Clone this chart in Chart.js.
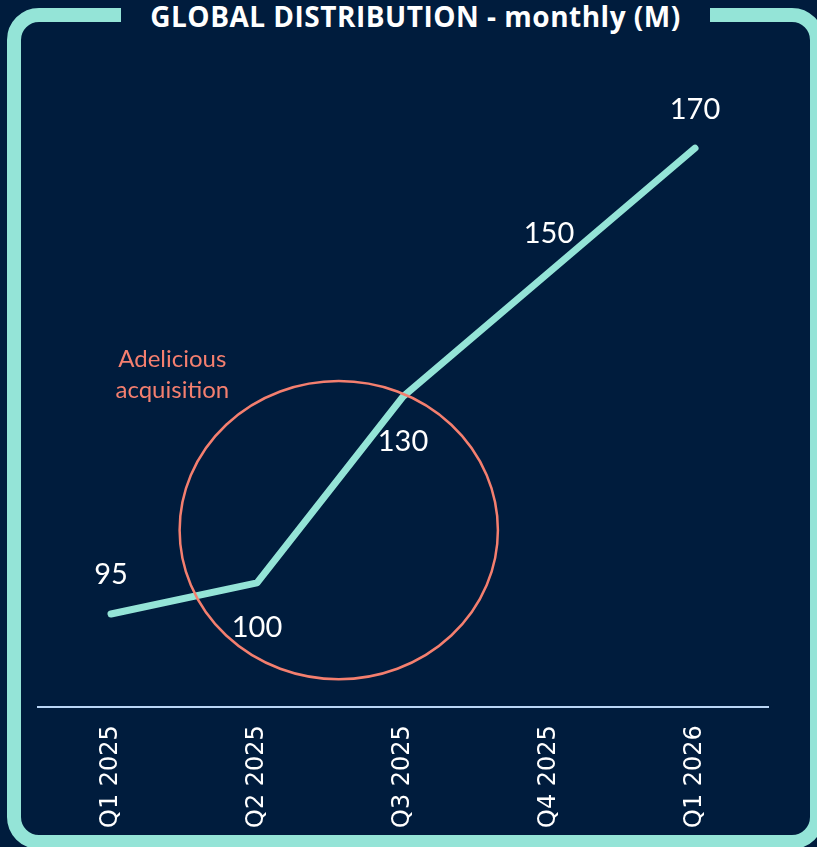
<!DOCTYPE html>
<html>
<head>
<meta charset="utf-8">
<script src="https://cdn.jsdelivr.net/npm/chart.js@4.4.1/dist/chart.umd.min.js"></script>
<style>
    html, body { margin: 0; padding: 0; background: #001c3d; overflow: hidden; }
    body { width: 817px; height: 847px; position: relative; }
    .frame {
        position: absolute; left: 7px; top: 8px;
        width: 789px; height: 813px;
        border: 14px solid #94e4d7; border-radius: 32px;
    }
    .title {
        position: absolute; left: 121px; top: 0; width: 589px; height: 33px;
        background: #001c3d; color: #ffffff;
        font-family: "Open Sans", sans-serif; font-weight: bold; font-size: 28px;
        letter-spacing: 0.5px;
        text-align: center; line-height: 33px;
    }
    #chartBox { position: absolute; left: 0; top: 0; width: 817px; height: 847px; }
</style>
</head>
<body>
<div class="frame"></div>
<div class="title">GLOBAL DISTRIBUTION - monthly (M)</div>
<div id="chartBox"><canvas id="myChart"></canvas></div>
<script>
// Data
const quarters = ["Q1 2025", "Q2 2025", "Q3 2025", "Q4 2025", "Q1 2026"];
const distribution = [95, 100, 130, 150, 170];
const labelSide = ["above", "below", "below", "above", "above"];

// Annotation (in data units)
const noteLines = ["Adelicious", "acquisition"];
const notePos = { x: 0.42, y: 136 };
const ring = { x: 1.56, y: 108.5, rx: 1.09, ry: 24 };

const mint = '#94e4d7';
const salmon = '#f47f6f';

// value labels next to each point
const valueLabels = {
    id: 'valueLabels',
    afterDatasetsDraw(chart) {
        const ctx = chart.ctx;
        const meta = chart.getDatasetMeta(0);
        ctx.save();
        ctx.fillStyle = '#ffffff';
        ctx.font = '29px Lato, sans-serif';
        ctx.textAlign = 'center';
        ctx.textBaseline = 'middle';
        meta.data.forEach((pt, i) => {
            const dy = labelSide[i] === 'above' ? -39 : 45;
            ctx.fillText(String(distribution[i]), pt.x, pt.y + dy);
        });
        ctx.restore();
    }
};

// circle + note
const acquisitionNote = {
    id: 'acquisitionNote',
    afterDatasetsDraw(chart) {
        const ctx = chart.ctx;
        const xs = chart.scales.x, ys = chart.scales.y;
        const cx = xs.getPixelForValue(ring.x);
        const cy = ys.getPixelForValue(ring.y);
        const rx = xs.getPixelForValue(ring.x + ring.rx) - cx;
        const ry = cy - ys.getPixelForValue(ring.y + ring.ry);
        ctx.save();
        ctx.strokeStyle = salmon;
        ctx.lineWidth = 2.5;
        ctx.beginPath();
        ctx.ellipse(cx, cy, rx, ry, 0, 0, Math.PI * 2);
        ctx.stroke();

        ctx.fillStyle = salmon;
        ctx.font = '24px Lato, sans-serif';
        ctx.textAlign = 'center';
        ctx.textBaseline = 'middle';
        const tx = xs.getPixelForValue(notePos.x);
        const ty = ys.getPixelForValue(notePos.y);
        noteLines.forEach((line, i) => ctx.fillText(line, tx, ty + i * 31));
        ctx.restore();
    }
};

const ctx = document.getElementById('myChart').getContext('2d');
const myChart = new Chart(ctx, {
    type: 'line',
    data: {
        labels: quarters,
        datasets: [{
            label: 'Global distribution',
            data: distribution,
            borderColor: mint,
            borderWidth: 7,
            borderCapStyle: 'round',
            borderJoinStyle: 'round',
            pointRadius: 0,
            tension: 0,
            fill: false
        }]
    },
    options: {
        responsive: true,
        maintainAspectRatio: false,
        animation: false,
        layout: { padding: { left: 38, right: 49, top: 55, bottom: 1 } },
        plugins: {
            legend: { display: false },
            tooltip: { enabled: false }
        },
        scales: {
            x: {
                offset: true,
                grid: { display: false, drawTicks: false },
                border: { display: true, color: '#b9d5f5', width: 2 },
                ticks: {
                    color: '#ffffff',
                    font: { family: 'DejaVu Sans', size: 24 },
                    minRotation: 90,
                    maxRotation: 90,
                    padding: 18
                }
            },
            y: {
                display: false,
                min: 80,
                max: 185
            }
        }
    },
    plugins: [valueLabels, acquisitionNote]
});
</script>
</body>
</html>
